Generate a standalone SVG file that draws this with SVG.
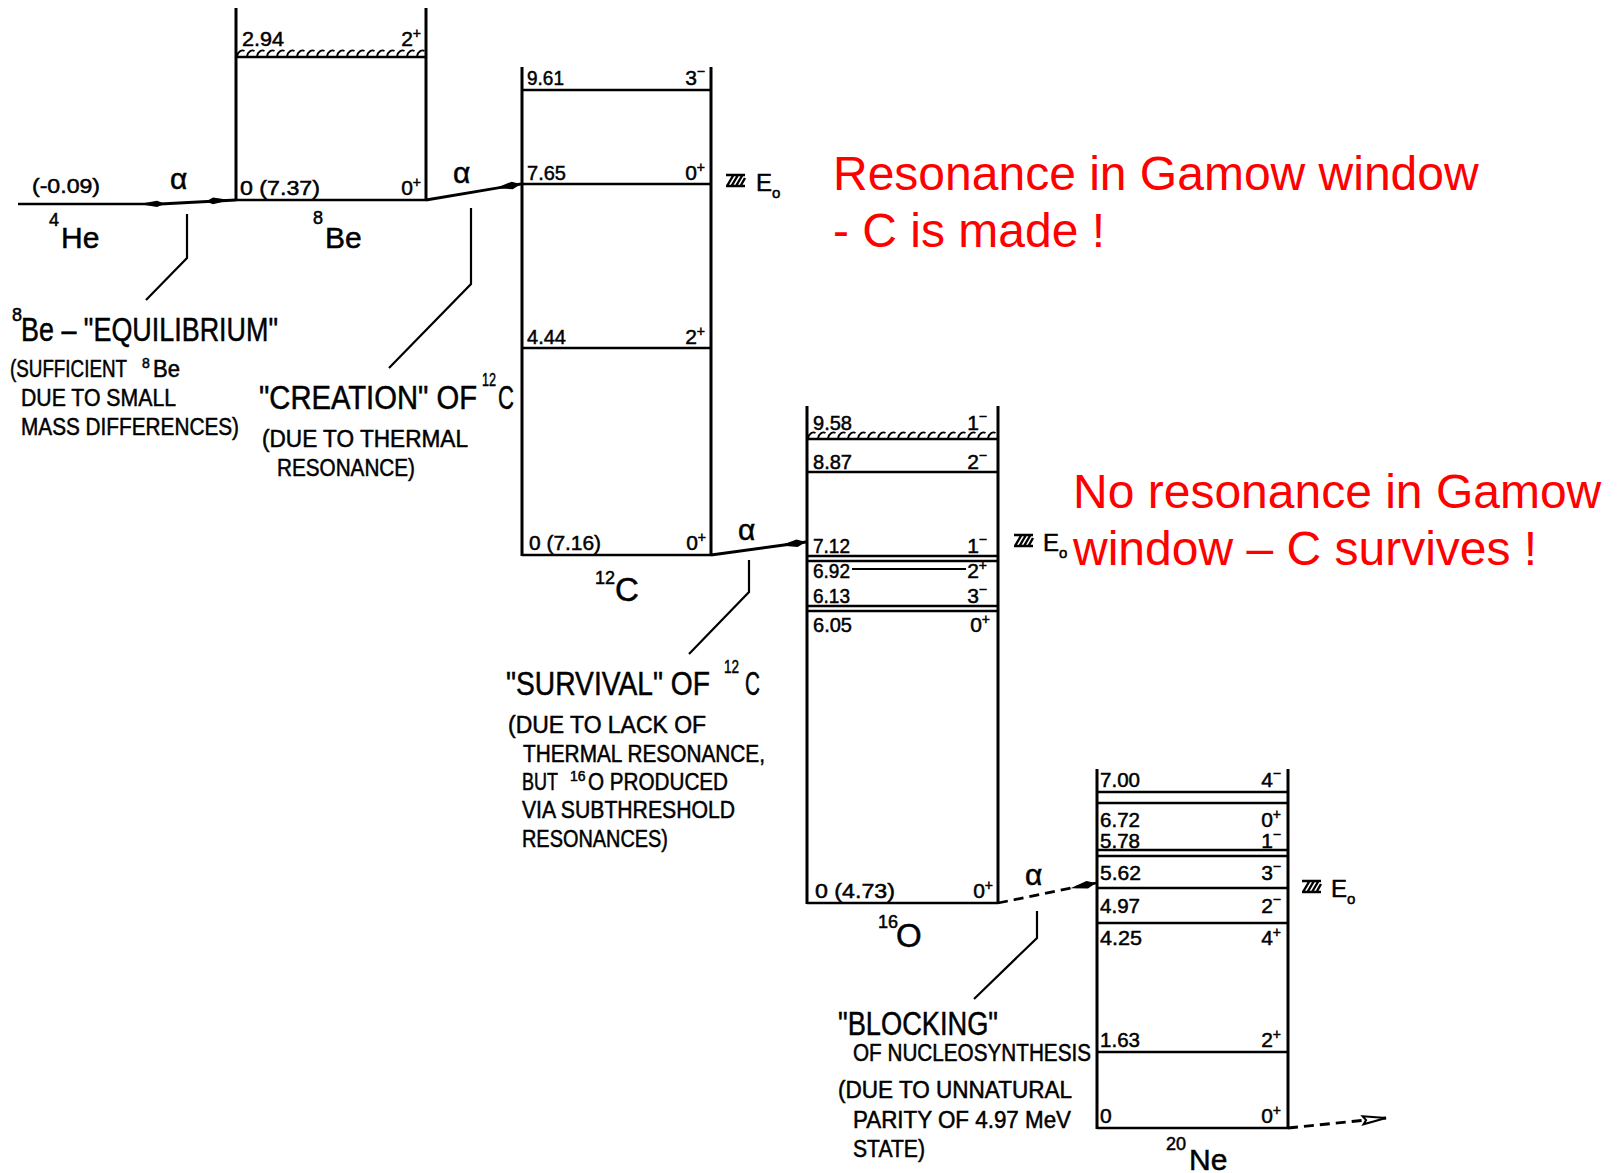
<svg xmlns="http://www.w3.org/2000/svg" width="1617" height="1173" viewBox="0 0 1617 1173">
<style>
.bx{stroke:#000;stroke-width:3;fill:none}
.lv{stroke:#000;stroke-width:2.6;fill:none}
.tl{stroke:#000;stroke-width:2.2;fill:none}
.cn{stroke:#000;stroke-width:2.8;fill:none}
.ds{stroke-dasharray:10 6}
.co{stroke:#000;stroke-width:2.2;fill:none}
text{font-family:"Liberation Sans",Arial,sans-serif;fill:#000;stroke:#000;stroke-width:0.5}
.n{font-size:21px}
.nm{font-size:30px}
.sp{font-size:18px}
.al{font-size:30px}
.h{font-size:33px}
.s{font-size:23px}
.red{font-size:48px;fill:#ff0000;stroke:none}
.e{font-size:24px}
.eo{font-size:15px}
</style>
<defs>
<pattern id="wv" patternUnits="userSpaceOnUse" width="10" height="9">
<path d="M1,8.5 C2,3 6,1.5 8.5,3" stroke="#000" stroke-width="1.8" fill="none"/>
</pattern>
<marker id="ah" markerUnits="userSpaceOnUse" markerWidth="28" markerHeight="10" refX="26" refY="5" orient="auto" overflow="visible">
<path d="M0,5 L17,1.2 L26,5 L17,8.8 Z" fill="#000"/>
</marker>
<marker id="oh" markerUnits="userSpaceOnUse" markerWidth="28" markerHeight="12" refX="25" refY="6" orient="auto" overflow="visible">
<path d="M2,2 L25,6 L2,10 L5,6 Z" fill="#fff" stroke="#000" stroke-width="2"/>
</marker>
<g id="e0">
<path d="M0,1 H19 M0,12 H19 M1,12 L7.5,1 M5.5,12 L12,1 M10,12 L16.5,1 M14.5,12 L19,4" stroke="#000" stroke-width="2.4" fill="none"/>
</g>
</defs>
<rect width="1617" height="1173" fill="#fff"/>

<g id="n-he4">
<line class="lv" x1="18" y1="204" x2="160" y2="204"/>
<text class="n" x="32" y="193" textLength="68" lengthAdjust="spacingAndGlyphs">(-0.09)</text>
<text class="nm"><tspan x="49" y="226" font-size="18">4</tspan><tspan x="61" y="248">He</tspan></text>
</g>

<g id="n-be8">
<path class="bx" d="M236,8 V201 M426,8 V201"/>
<line class="lv" x1="236" y1="200" x2="426" y2="200"/>
<g transform="translate(236,48)"><rect width="190" height="9" fill="url(#wv)"/></g>
<line class="lv" x1="236" y1="57" x2="426" y2="57"/>
<text class="n" x="242" y="46" textLength="42" lengthAdjust="spacingAndGlyphs">2.94</text>
<text class="n" x="421" y="46" text-anchor="end">2<tspan dy="-8" font-size="14">+</tspan></text>
<text class="n" x="240" y="195" textLength="80" lengthAdjust="spacingAndGlyphs">0 (7.37)</text>
<text class="n" x="421" y="195" text-anchor="end">0<tspan dy="-8" font-size="14">+</tspan></text>
<text class="nm"><tspan x="313" y="224" font-size="18">8</tspan><tspan x="325" y="248">Be</tspan></text>
</g>

<g id="n-c12">
<path class="bx" d="M522,67 V556 M711,67 V556"/>
<path class="lv" d="M522,90 H711 M522,184 H711 M522,348 H711 M522,555 H711"/>
<text class="n" x="527" y="85" textLength="37" lengthAdjust="spacingAndGlyphs">9.61</text>
<text class="n" x="705" y="85" text-anchor="end">3<tspan dy="-9" font-size="14">−</tspan></text>
<text class="n" x="527" y="180" textLength="39" lengthAdjust="spacingAndGlyphs">7.65</text>
<text class="n" x="705" y="180" text-anchor="end">0<tspan dy="-8" font-size="14">+</tspan></text>
<text class="n" x="527" y="344" textLength="39" lengthAdjust="spacingAndGlyphs">4.44</text>
<text class="n" x="705" y="344" text-anchor="end">2<tspan dy="-8" font-size="14">+</tspan></text>
<text class="n" x="529" y="550" textLength="72" lengthAdjust="spacingAndGlyphs">0 (7.16)</text>
<text class="n" x="706" y="550" text-anchor="end">0<tspan dy="-8" font-size="14">+</tspan></text>
<use href="#e0" x="726" y="174"/>
<text class="e" x="756" y="191">E<tspan class="eo" dy="7">o</tspan></text>
<text class="h"><tspan x="595" y="584" font-size="18">12</tspan><tspan x="615" y="601">C</tspan></text>
</g>

<g id="n-o16">
<path class="bx" d="M807,406 V904 M998,406 V904"/>
<g transform="translate(807,430)"><rect width="191" height="9" fill="url(#wv)"/></g>
<path class="lv" d="M807,439 H998 M807,472 H998 M807,556 H998 M807,561 H998 M807,606 H998 M807,611 H998 M807,903 H998"/>
<line class="tl" x1="852" y1="569" x2="966" y2="569"/>
<text class="n" x="813" y="430" textLength="39" lengthAdjust="spacingAndGlyphs">9.58</text>
<text class="n" x="987" y="430" text-anchor="end">1<tspan dy="-9" font-size="14">−</tspan></text>
<text class="n" x="813" y="469" textLength="39" lengthAdjust="spacingAndGlyphs">8.87</text>
<text class="n" x="987" y="469" text-anchor="end">2<tspan dy="-9" font-size="14">−</tspan></text>
<text class="n" x="813" y="553" textLength="37" lengthAdjust="spacingAndGlyphs">7.12</text>
<text class="n" x="987" y="553" text-anchor="end">1<tspan dy="-9" font-size="14">−</tspan></text>
<text class="n" x="813" y="578" textLength="37" lengthAdjust="spacingAndGlyphs">6.92</text>
<text class="n" x="987" y="578" text-anchor="end">2<tspan dy="-8" font-size="14">+</tspan></text>
<text class="n" x="813" y="603" textLength="37" lengthAdjust="spacingAndGlyphs">6.13</text>
<text class="n" x="987" y="603" text-anchor="end">3<tspan dy="-9" font-size="14">−</tspan></text>
<text class="n" x="813" y="632" textLength="39" lengthAdjust="spacingAndGlyphs">6.05</text>
<text class="n" x="990" y="632" text-anchor="end">0<tspan dy="-8" font-size="14">+</tspan></text>
<text class="n" x="815" y="898" textLength="80" lengthAdjust="spacingAndGlyphs">0 (4.73)</text>
<text class="n" x="993" y="898" text-anchor="end">0<tspan dy="-8" font-size="14">+</tspan></text>
<use href="#e0" x="1014" y="534"/>
<text class="e" x="1043" y="551">E<tspan class="eo" dy="7">o</tspan></text>
<text class="h"><tspan x="878" y="928" font-size="18">16</tspan><tspan x="896" y="947">O</tspan></text>
</g>

<g id="n-ne20">
<path class="bx" d="M1097,769 V1129 M1288,769 V1129"/>
<path class="lv" d="M1097,792 H1288 M1097,803 H1288 M1097,850 H1288 M1097,856 H1288 M1097,888 H1288 M1097,923 H1288 M1097,1052 H1288 M1097,1128 H1288"/>
<text class="n" x="1100" y="787" textLength="40" lengthAdjust="spacingAndGlyphs">7.00</text>
<text class="n" x="1281" y="787" text-anchor="end">4<tspan dy="-9" font-size="14">−</tspan></text>
<text class="n" x="1100" y="827" textLength="40" lengthAdjust="spacingAndGlyphs">6.72</text>
<text class="n" x="1281" y="827" text-anchor="end">0<tspan dy="-8" font-size="14">+</tspan></text>
<text class="n" x="1100" y="848" textLength="40" lengthAdjust="spacingAndGlyphs">5.78</text>
<text class="n" x="1281" y="848" text-anchor="end">1<tspan dy="-9" font-size="14">−</tspan></text>
<text class="n" x="1100" y="880" textLength="41" lengthAdjust="spacingAndGlyphs">5.62</text>
<text class="n" x="1281" y="880" text-anchor="end">3<tspan dy="-9" font-size="14">−</tspan></text>
<text class="n" x="1100" y="913" textLength="40" lengthAdjust="spacingAndGlyphs">4.97</text>
<text class="n" x="1281" y="913" text-anchor="end">2<tspan dy="-9" font-size="14">−</tspan></text>
<text class="n" x="1100" y="945" textLength="42" lengthAdjust="spacingAndGlyphs">4.25</text>
<text class="n" x="1281" y="945" text-anchor="end">4<tspan dy="-8" font-size="14">+</tspan></text>
<text class="n" x="1100" y="1047" textLength="40" lengthAdjust="spacingAndGlyphs">1.63</text>
<text class="n" x="1281" y="1047" text-anchor="end">2<tspan dy="-8" font-size="14">+</tspan></text>
<text class="n" x="1100" y="1123">0</text>
<text class="n" x="1281" y="1123" text-anchor="end">0<tspan dy="-8" font-size="14">+</tspan></text>
<use href="#e0" x="1302" y="880"/>
<text class="e" x="1331" y="897">E<tspan class="eo" dy="7">o</tspan></text>
<text class="nm"><tspan x="1166" y="1150" font-size="18">20</tspan><tspan x="1189" y="1170">Ne</tspan></text>
</g>

<g id="connectors">
<line class="cn" x1="160" y1="204" x2="236" y2="200"/>
<polygon points="139,204 157,200.8 165,203.8 157,207" fill="#000"/>
<polygon points="230,200 213,197.6 206,201.4 213,204.2" fill="#000"/>
<text class="al" x="170" y="189">α</text>
<line class="cn" x1="426" y1="200" x2="521" y2="184" marker-end="url(#ah)"/>
<text class="al" x="453" y="183">α</text>
<line class="cn" x1="711" y1="555" x2="806" y2="542" marker-end="url(#ah)"/>
<text class="al" x="738" y="540">α</text>
<line class="cn ds" x1="998" y1="903" x2="1096" y2="883" marker-end="url(#ah)"/>
<text class="al" x="1025" y="885">α</text>
<line class="cn ds" x1="1288" y1="1128" x2="1386" y2="1118" marker-end="url(#oh)"/>
<path class="co" d="M187,214 V258 L146,300"/>
<path class="co" d="M471,208 V284 L389,368"/>
<path class="co" d="M749,560 V592 L689,654"/>
<path class="co" d="M1037,911 V938 L974,999"/>
</g>

<g id="note-equilibrium">
<text class="h"><tspan x="12" y="321" font-size="18">8</tspan><tspan x="21" y="341" textLength="257" lengthAdjust="spacingAndGlyphs">Be – "EQUILIBRIUM"</tspan></text>
<text class="s"><tspan x="10" y="377" textLength="117" lengthAdjust="spacingAndGlyphs">(SUFFICIENT</tspan><tspan x="142" y="368" font-size="14">8</tspan><tspan x="153" y="377" textLength="27" lengthAdjust="spacingAndGlyphs">Be</tspan></text>
<text class="s" x="21" y="406" textLength="155" lengthAdjust="spacingAndGlyphs">DUE  TO  SMALL</text>
<text class="s" x="21" y="435" textLength="218" lengthAdjust="spacingAndGlyphs">MASS  DIFFERENCES)</text>
</g>

<g id="note-creation">
<text class="h"><tspan x="259" y="409" textLength="218" lengthAdjust="spacingAndGlyphs">"CREATION" OF</tspan><tspan x="482" y="386" font-size="18" textLength="14" lengthAdjust="spacingAndGlyphs">12</tspan><tspan x="498" y="409" textLength="16" lengthAdjust="spacingAndGlyphs">C</tspan></text>
<text class="s" x="262" y="447" textLength="206" lengthAdjust="spacingAndGlyphs">(DUE  TO  THERMAL</text>
<text class="s" x="277" y="476" textLength="138" lengthAdjust="spacingAndGlyphs">RESONANCE)</text>
</g>

<g id="note-survival">
<text class="h"><tspan x="506" y="695" textLength="204" lengthAdjust="spacingAndGlyphs">"SURVIVAL" OF</tspan><tspan x="724" y="673" font-size="18" textLength="15" lengthAdjust="spacingAndGlyphs">12</tspan><tspan x="745" y="695" textLength="15" lengthAdjust="spacingAndGlyphs">C</tspan></text>
<text class="s" x="508" y="733" textLength="198" lengthAdjust="spacingAndGlyphs">(DUE  TO LACK  OF</text>
<text class="s" x="523" y="762" textLength="242" lengthAdjust="spacingAndGlyphs">THERMAL  RESONANCE,</text>
<text class="s"><tspan x="522" y="790" textLength="36" lengthAdjust="spacingAndGlyphs">BUT</tspan><tspan x="570" y="781" font-size="14">16</tspan><tspan x="588" y="790" textLength="140" lengthAdjust="spacingAndGlyphs">O  PRODUCED</tspan></text>
<text class="s" x="522" y="818" textLength="213" lengthAdjust="spacingAndGlyphs">VIA  SUBTHRESHOLD</text>
<text class="s" x="522" y="847" textLength="146" lengthAdjust="spacingAndGlyphs">RESONANCES)</text>
</g>

<g id="note-blocking">
<text class="h" x="838" y="1035" textLength="160" lengthAdjust="spacingAndGlyphs">"BLOCKING"</text>
<text class="s" x="853" y="1061" textLength="238" lengthAdjust="spacingAndGlyphs">OF  NUCLEOSYNTHESIS</text>
<text class="s" x="838" y="1098" textLength="234" lengthAdjust="spacingAndGlyphs">(DUE  TO  UNNATURAL</text>
<text class="s" x="853" y="1128" textLength="218" lengthAdjust="spacingAndGlyphs">PARITY  OF  4.97 MeV</text>
<text class="s" x="853" y="1157" textLength="72" lengthAdjust="spacingAndGlyphs">STATE)</text>
</g>

<g id="note-red">
<text class="red" x="833" y="190">Resonance in Gamow window</text>
<text class="red" x="833" y="247">- C is made !</text>
<text class="red" x="1073" y="508">No resonance in Gamow</text>
<text class="red" x="1073" y="565">window – C survives !</text>
</g>
</svg>
